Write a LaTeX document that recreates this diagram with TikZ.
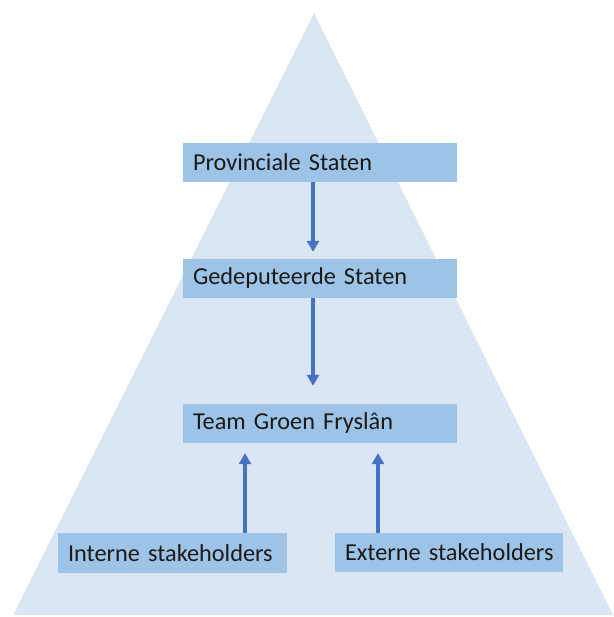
\documentclass[tikz,border=0pt]{standalone}
\usepackage{fontspec}
\setmainfont{Carlito}
\usetikzlibrary{arrows.meta}
\definecolor{tri}{HTML}{DAE6F4}
\definecolor{boxc}{HTML}{9DC3E6}
\definecolor{arr}{HTML}{4472C4}
\definecolor{txt}{HTML}{1A1A1A}
\begin{document}
\begin{tikzpicture}[x=1pt,y=-1pt,
  lvl/.style={fill=boxc, draw=none, inner xsep=10pt, inner ysep=0pt, align=left,
    font=\fontsize{24.3}{27}\selectfont, text=txt, anchor=center},
  conn/.style={draw=arr, line width=3.3pt, -{Triangle[width=12pt,length=11pt]}}]
\useasboundingbox (0,0) rectangle (613,617);
\fill[tri] (13,615) -- (314,13) -- (613,615) -- cycle;
\node[lvl, minimum width=274pt, minimum height=39pt, text width=254pt] (ps) at (320,162.5) {\mbox{Provinciale Staten}};
\node[lvl, minimum width=274pt, minimum height=39pt, text width=254pt] (gs) at (320,278.5) {\mbox{Gedeputeerde Staten}};
\node[lvl, minimum width=274pt, minimum height=39pt, text width=254pt] (tg) at (320,423.5) {\mbox{Team Groen Fryslân}};
\node[lvl, minimum width=229pt, minimum height=40pt, text width=209pt] (is) at (172.5,553) {\mbox{Interne stakeholders}};
\node[lvl, minimum width=228pt, minimum height=39pt, text width=208pt] (es) at (449,552.5) {\mbox{Externe stakeholders}};
\draw[conn, shorten >=7pt] (ps.south -| 313,0) -- (gs.north -| 313,0);
\draw[conn, shorten >=18pt] (gs.south -| 313,0) -- (tg.north -| 313,0);
\draw[conn, shorten >=10pt] (is.north -| 245,0) -- (tg.south -| 245,0);
\draw[conn, shorten >=10pt] (es.north -| 378,0) -- (tg.south -| 378,0);
\end{tikzpicture}
\end{document}
